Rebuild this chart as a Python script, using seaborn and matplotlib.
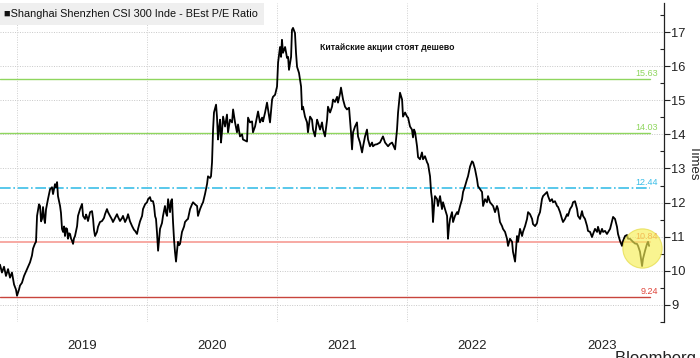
import numpy as np
import seaborn as sns
import matplotlib.pyplot as plt

# CSI 300 blended forward P/E (decimal years)
dates_2018 = [2018.869, 2018.884, 2018.900, 2018.915, 2018.931, 2018.946, 2018.961, 2018.977, 2018.992]
pe_2018 = [10.18, 9.95, 10.12, 9.85, 10.05, 9.80, 9.95, 9.60, 9.45]

dates_2019 = [2019.000, 2019.015, 2019.023, 2019.038, 2019.054, 2019.062, 2019.077, 2019.085, 2019.100, 2019.115,
              2019.123, 2019.138, 2019.146, 2019.154, 2019.169, 2019.177, 2019.185, 2019.192, 2019.200, 2019.208,
              2019.215, 2019.223, 2019.238, 2019.254, 2019.269, 2019.277, 2019.292, 2019.300, 2019.308, 2019.315,
              2019.331, 2019.338, 2019.346, 2019.354, 2019.362, 2019.369, 2019.377, 2019.385, 2019.392, 2019.400,
              2019.408, 2019.415, 2019.423, 2019.431, 2019.438, 2019.446, 2019.462, 2019.469, 2019.485, 2019.500,
              2019.508, 2019.523, 2019.531, 2019.538, 2019.546, 2019.562, 2019.577, 2019.585, 2019.592, 2019.600,
              2019.615, 2019.623, 2019.638, 2019.654, 2019.669, 2019.677, 2019.692, 2019.700, 2019.715, 2019.731,
              2019.738, 2019.754, 2019.769, 2019.777, 2019.792, 2019.808, 2019.815, 2019.831, 2019.846, 2019.854,
              2019.869, 2019.885, 2019.900, 2019.908, 2019.923, 2019.931, 2019.946, 2019.962, 2019.969, 2019.985]
pe_2019 = [9.27, 9.45, 9.57, 9.65, 9.85, 9.92, 10.05, 10.12, 10.25, 10.45,
           10.65, 10.80, 10.85, 11.61, 11.95, 11.90, 11.45, 11.52, 11.87, 11.55,
           11.40, 11.80, 12.10, 12.39, 12.45, 12.25, 12.54, 12.45, 12.60, 12.19,
           11.90, 11.70, 11.23, 11.14, 11.30, 11.02, 11.25, 11.23, 10.94, 11.10,
           11.08, 10.95, 10.88, 10.79, 10.95, 11.02, 11.31, 11.61, 11.81, 11.96,
           11.61, 11.52, 11.65, 11.58, 11.46, 11.72, 11.75, 11.52, 11.20, 11.02,
           11.14, 11.29, 11.43, 11.46, 11.55, 11.66, 11.81, 11.72, 11.61, 11.50,
           11.43, 11.55, 11.66, 11.58, 11.46, 11.55, 11.61, 11.43, 11.55, 11.66,
           11.45, 11.31, 11.20, 11.17, 11.08, 11.23, 11.45, 11.61, 11.81, 11.95]

dates_2020 = [2020.000, 2020.008, 2020.023, 2020.031, 2020.046, 2020.054, 2020.062, 2020.069, 2020.077, 2020.085,
              2020.092, 2020.100, 2020.115, 2020.123, 2020.138, 2020.146, 2020.154, 2020.162, 2020.177, 2020.185,
              2020.192, 2020.200, 2020.208, 2020.215, 2020.223, 2020.231, 2020.238, 2020.246, 2020.254, 2020.269,
              2020.285, 2020.292, 2020.308, 2020.315, 2020.331, 2020.346, 2020.354, 2020.369, 2020.385, 2020.392,
              2020.408, 2020.423, 2020.431, 2020.446, 2020.462, 2020.469, 2020.485, 2020.492, 2020.500, 2020.508,
              2020.515, 2020.531, 2020.538, 2020.546, 2020.554, 2020.562, 2020.569, 2020.577, 2020.585, 2020.600,
              2020.615, 2020.623, 2020.638, 2020.654, 2020.662, 2020.677, 2020.692, 2020.700, 2020.715, 2020.731,
              2020.738, 2020.754, 2020.769, 2020.777, 2020.792, 2020.808, 2020.815, 2020.831, 2020.846, 2020.854,
              2020.869, 2020.885, 2020.892, 2020.908, 2020.923, 2020.931, 2020.946, 2020.962, 2020.969, 2020.985]
pe_2020 = [12.01, 12.10, 12.16, 12.05, 12.04, 11.90, 11.60, 11.52, 11.10, 10.59,
           10.90, 11.23, 11.40, 11.61, 11.90, 11.70, 11.61, 12.10, 11.72, 12.05,
           12.10, 11.43, 10.90, 10.56, 10.27, 10.60, 10.85, 10.75, 10.79, 11.14,
           11.30, 11.43, 11.50, 11.52, 11.81, 11.95, 12.01, 11.95, 11.90, 11.61,
           11.81, 11.95, 12.01, 12.25, 12.55, 12.77, 12.72, 12.77, 13.18, 14.14,
           14.64, 14.87, 14.52, 13.85, 14.20, 14.43, 13.76, 14.10, 14.52, 14.23,
           14.58, 14.06, 14.43, 14.35, 14.73, 14.35, 14.06, 14.29, 13.94, 14.00,
           13.85, 13.82, 13.79, 14.49, 14.35, 14.38, 14.06, 14.23, 14.52, 14.67,
           14.35, 14.49, 14.38, 14.64, 14.93, 14.73, 14.35, 15.02, 15.10, 15.16]

dates_2021 = [2021.000, 2021.008, 2021.023, 2021.031, 2021.038, 2021.046, 2021.062, 2021.077, 2021.085, 2021.092,
              2021.108, 2021.115, 2021.123, 2021.138, 2021.146, 2021.154, 2021.169, 2021.185, 2021.192, 2021.200,
              2021.215, 2021.231, 2021.238, 2021.254, 2021.269, 2021.277, 2021.292, 2021.308, 2021.315, 2021.331,
              2021.346, 2021.354, 2021.369, 2021.385, 2021.392, 2021.408, 2021.423, 2021.431, 2021.446, 2021.462,
              2021.469, 2021.485, 2021.492, 2021.508, 2021.523, 2021.538, 2021.554, 2021.562, 2021.569, 2021.577,
              2021.585, 2021.600, 2021.615, 2021.623, 2021.638, 2021.654, 2021.662, 2021.677, 2021.692, 2021.700,
              2021.715, 2021.731, 2021.738, 2021.754, 2021.769, 2021.792, 2021.815, 2021.831, 2021.854, 2021.869,
              2021.885, 2021.908, 2021.923, 2021.931, 2021.946, 2021.962, 2021.969, 2021.985]
pe_2021 = [15.40, 16.10, 16.56, 16.27, 16.77, 16.39, 16.56, 16.24, 16.27, 15.89,
           16.27, 17.06, 17.12, 16.97, 16.39, 15.98, 15.80, 15.40, 14.73, 14.81,
           14.52, 14.35, 14.06, 14.52, 14.43, 14.14, 13.94, 14.43, 14.35, 14.14,
           14.35, 14.14, 13.94, 14.43, 14.81, 14.64, 14.81, 15.02, 14.95, 15.10,
           14.93, 15.20, 15.37, 15.02, 14.81, 14.73, 14.78, 14.40, 14.06, 13.56,
           14.06, 14.23, 14.35, 13.94, 13.76, 13.47, 13.65, 13.94, 14.14, 13.85,
           13.65, 13.76, 13.65, 13.70, 13.71, 13.76, 13.94, 13.76, 13.65, 13.72,
           13.76, 13.56, 14.14, 14.64, 15.22, 15.02, 14.52, 14.64]

dates_2022 = [2022.000, 2022.008, 2022.023, 2022.038, 2022.046, 2022.054, 2022.062, 2022.077, 2022.085, 2022.100,
              2022.115, 2022.123, 2022.138, 2022.154, 2022.162, 2022.177, 2022.185, 2022.192, 2022.200, 2022.208,
              2022.215, 2022.231, 2022.238, 2022.254, 2022.269, 2022.277, 2022.292, 2022.308, 2022.315, 2022.323,
              2022.331, 2022.346, 2022.354, 2022.369, 2022.385, 2022.392, 2022.408, 2022.423, 2022.431, 2022.446,
              2022.462, 2022.469, 2022.485, 2022.500, 2022.508, 2022.523, 2022.538, 2022.546, 2022.562, 2022.577,
              2022.585, 2022.600, 2022.615, 2022.623, 2022.638, 2022.662, 2022.677, 2022.692, 2022.700, 2022.715,
              2022.731, 2022.738, 2022.754, 2022.769, 2022.777, 2022.792, 2022.808, 2022.815, 2022.831, 2022.846,
              2022.854, 2022.869, 2022.885, 2022.892, 2022.908, 2022.923, 2022.931, 2022.946, 2022.962, 2022.969,
              2022.985]
pe_2022 = [14.52, 14.49, 14.23, 14.14, 13.91, 14.14, 14.06, 13.65, 13.33, 13.27,
           13.47, 13.27, 13.36, 13.18, 13.12, 12.77, 12.31, 12.10, 11.43, 11.90,
           12.19, 12.10, 11.90, 12.19, 11.81, 12.01, 11.81, 11.61, 10.94, 11.30,
           11.52, 11.72, 11.43, 11.61, 11.72, 11.66, 11.90, 12.10, 12.31, 12.48,
           12.69, 12.77, 13.06, 13.21, 13.18, 12.98, 12.69, 12.48, 12.39, 12.31,
           11.90, 12.10, 12.01, 12.19, 12.01, 11.90, 11.72, 11.90, 11.81, 11.43,
           11.31, 11.23, 11.14, 10.94, 10.73, 10.94, 10.85, 10.56, 10.27, 11.02,
           10.85, 11.23, 11.02, 11.14, 11.31, 11.52, 11.72, 11.66, 11.52, 11.37,
           11.31]

dates_2023 = [2023.000, 2023.008, 2023.023, 2023.038, 2023.046, 2023.062, 2023.077, 2023.085, 2023.100, 2023.115,
              2023.123, 2023.138, 2023.154, 2023.162, 2023.177, 2023.192, 2023.200, 2023.215, 2023.231, 2023.238,
              2023.254, 2023.269, 2023.277, 2023.292, 2023.308, 2023.315, 2023.331, 2023.346, 2023.354, 2023.369,
              2023.385, 2023.392, 2023.408, 2023.423, 2023.431, 2023.446, 2023.462, 2023.469, 2023.485, 2023.500,
              2023.508, 2023.523, 2023.538, 2023.562, 2023.577, 2023.585, 2023.600, 2023.615, 2023.623, 2023.638,
              2023.654, 2023.662, 2023.677, 2023.692, 2023.700, 2023.715, 2023.738, 2023.754, 2023.769, 2023.777,
              2023.792, 2023.800, 2023.808, 2023.815, 2023.831, 2023.846, 2023.854, 2023.862]
pe_2023 = [11.40, 11.58, 11.72, 12.10, 12.19, 12.25, 12.31, 12.19, 12.04, 12.10,
           12.01, 12.04, 11.90, 11.87, 11.72, 11.52, 11.43, 11.52, 11.66, 11.61,
           11.81, 11.90, 12.01, 12.04, 11.81, 11.61, 11.52, 11.75, 11.61, 11.52,
           11.31, 11.17, 11.14, 10.99, 11.08, 11.23, 11.14, 11.29, 11.08, 11.23,
           11.14, 11.17, 11.08, 11.23, 11.46, 11.58, 11.52, 11.29, 11.08, 10.88,
           10.73, 10.88, 11.02, 11.05, 10.94, 10.94, 10.85, 10.80, 10.79, 10.73,
           10.56, 10.35, 10.14, 10.35, 10.59, 10.79, 10.85, 10.73]

# horizontal reference levels (mean and +/- 1, 2 std)
levels = [15.63, 14.03, 12.44, 10.84, 9.24]
level_labels = ['15.63', '14.03', '12.44', '10.84', '9.24']
year_labels = ['2019', '2020', '2021', '2022', '2023']
y_ticks = [9, 10, 11, 12, 13, 14, 15, 16, 17]

title = '\u25a0Shanghai Shenzhen CSI 300 Inde - BEst P/E Ratio'
note = 'Китайские акции стоят дешево'

dates = np.array(dates_2018 + dates_2019 + dates_2020 + dates_2021 + dates_2022 + dates_2023)
pe = np.array(pe_2018 + pe_2019 + pe_2020 + pe_2021 + pe_2022 + pe_2023)

sns.set_style('white')
plt.rcParams['font.family'] = ['Liberation Sans', 'DejaVu Sans']

fig = plt.figure(figsize=(7, 3.58), dpi=100)
ax = fig.add_axes([0, 36 / 358, 664 / 700, 319 / 358])

line_styles = [
    dict(color='#8fd65e', lw=1.0, ls='-'),
    dict(color='#8fd65e', lw=1.0, ls='-'),
    dict(color='#3cbfe8', lw=1.2, ls='-.'),
    dict(color='#f7a9a3', lw=1.4, ls='-'),
    dict(color='#c8443c', lw=1.0, ls='-'),
]
label_colors = ['#8fd65e', '#8fd65e', '#3cbfe8', '#ee5a4f', '#e0443a']

for lvl, lab, st, lc in zip(levels, level_labels, line_styles, label_colors):
    ax.axhline(lvl, xmin=0, xmax=650 / 664, zorder=2, **st)
    ax.text(658 / 664, lvl + 0.03, lab, transform=ax.get_yaxis_transform(),
            ha='right', va='bottom', fontsize=6.5, color=lc)

sns.lineplot(x=dates, y=pe, ax=ax, color='black', linewidth=1.3,
             sort=False, estimator=None, zorder=3)

# yellow highlight around the latest dip
last = dates >= 2023.7
cx = dates[last][np.argmin(pe[last])]
cy = pe[last].mean()
ax.scatter([cx], [cy], s=800, color='#f6ef55', alpha=0.65, edgecolor='#e2d83a',
           linewidth=0.8, zorder=4)

ax.set_xlim(2018.869, 2018.869 + 664 / 130)
ax.set_ylim(8.56, 17.85)

# grid
years = [2019, 2020, 2021, 2022, 2023]
for y in y_ticks:
    ax.axhline(y, color='#c8c8c8', lw=0.7, ls=(0, (1, 1.5)), zorder=1)
for yr in years:
    ax.axvline(yr, color='#d0d0d0', lw=0.7, ls=(0, (1, 1.5)), zorder=1)

ax.set_xticks([y + 0.5 for y in years])
ax.set_xticklabels(year_labels, fontsize=9.5)
ax.tick_params(axis='x', length=0, pad=13, colors='#222222')

ax.yaxis.tick_right()
ax.set_yticks(y_ticks)
ax.set_yticks([v + 0.5 for v in [8] + y_ticks], minor=True)
ax.tick_params(axis='y', which='major', direction='out', length=4, width=0.8,
               labelsize=9.3, pad=1, colors='#222222')
ax.tick_params(axis='y', which='minor', direction='in', length=3, width=0.8, colors='#222222')
for s in ['top', 'left', 'bottom']:
    ax.spines[s].set_visible(False)
ax.spines['right'].set_color('#222222')
ax.spines['right'].set_linewidth(0.9)
ax.set_xlabel('')
ax.set_ylabel('')

fig.text(693.5 / 700, 1 - 163 / 358, 'Times', rotation=270, ha='center', va='center',
         fontsize=9.5, color='#222222')

# legend title in a grey box
fig.text(4 / 700, 1 - 14 / 358, title, ha='left', va='center', fontsize=7.8,
         color='#111111',
         bbox=dict(boxstyle='square,pad=0.55', fc='#efefef', ec='none'))

fig.text(387 / 700, 1 - 47 / 358, note, ha='center', va='center', fontsize=6.3,
         fontweight='bold', color='#111111')

fig.text(615 / 700, 7 / 358, 'Bloomberg \u25a0', ha='left', va='top', fontsize=12,
         color='#222222')

fig.savefig('out.png', dpi=100)
